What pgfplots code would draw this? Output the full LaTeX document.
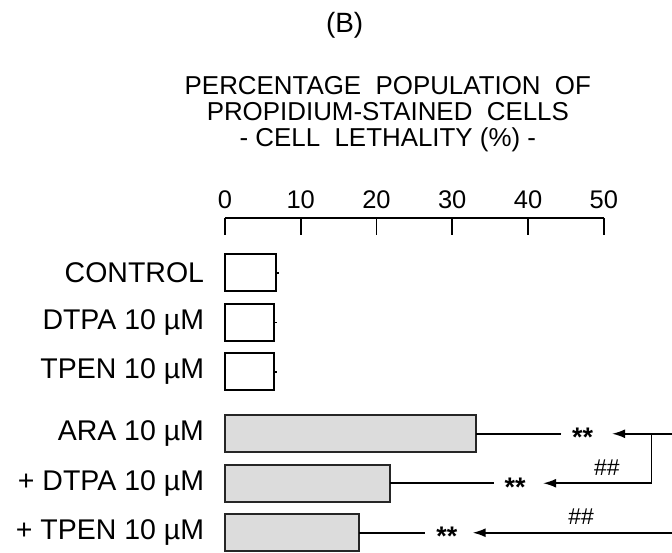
\documentclass[border=0pt]{standalone}
\usepackage{fontspec}
\setmainfont{Liberation Sans}
\usepackage{pgfplots}
\pgfplotsset{compat=1.18}
\usetikzlibrary{arrows.meta}
\definecolor{barg}{RGB}{220,220,220}
\begin{document}
\begin{tikzpicture}
\begin{axis}[
  x=3.79bp, y=24.75bp, y dir=reverse,
  xmin=0, xmax=50, ymin=-1.111, ymax=5.657,
  axis x line=top, axis y line=left,
  y axis line style={draw=none},
  x axis line style={-, line width=0.9bp},
  xtick={0,10,20,30,40,50},
  xtick align=inside,
  major tick length=8.5bp,
  xtick style={line width=0.9bp, black},
  ytick={0,1,2,3.25,4.25,5.25},
  yticklabels={CONTROL, DTPA 10 µM, TPEN 10 µM, ARA 10 µM, + DTPA 10 µM, + TPEN 10 µM},
  ytick style={draw=none},
  xticklabel style={font=\fontsize{12.8}{14}\selectfont, inner sep=1bp, yshift=3.5bp},
  yticklabel style={font=\fontsize{14.3}{16}\selectfont, anchor=east, inner sep=0pt, xshift=-6bp},
  /pgf/number format/assume math mode=true,
  clip=false,
]
\addplot[xbar, bar shift=0pt, bar width=18.5bp, fill=white, draw=black, line width=1bp,
  error bars/.cd, x dir=plus, x explicit, error mark=none,
  error bar style={line width=0.8bp, black}]
  coordinates {(6.8,0) +- (0.35,0) (6.45,1) +- (0.4,0) (6.5,2) +- (0.35,0)};
\addplot[xbar, bar shift=0pt, bar width=18.5bp, fill=barg, draw=black!85, line width=1bp,
  error bars/.cd, x dir=plus, x explicit, error mark=none,
  error bar style={line width=0.8bp, black}]
  coordinates {(33.2,3.25) +- (11.2,0) (21.8,4.25) +- (13.7,0) (17.7,5.25) +- (8.7,0)};
% annotations
\node[font=\bfseries\fontsize{13.5}{13}\selectfont] at (axis cs:47.2,3.33) {**};
\node[font=\bfseries\fontsize{13.5}{13}\selectfont] at (axis cs:38.3,4.33) {**};
\node[font=\bfseries\fontsize{13.5}{13}\selectfont] at (axis cs:29.3,5.33) {**};
\draw[line width=0.8bp, -{Latex[length=6.5bp,width=4.5bp]}] (axis cs:59,3.25) -- (axis cs:51.1,3.25);
\draw[line width=0.8bp] (axis cs:56.3,3.25) -- (axis cs:56.3,4.25);
\draw[line width=0.8bp, -{Latex[length=6.5bp,width=4.5bp]}] (axis cs:56.3,4.25) -- (axis cs:42,4.25);
\draw[line width=0.8bp, -{Latex[length=6.5bp,width=4.5bp]}] (axis cs:59,5.25) -- (axis cs:32.7,5.25);
\node[font=\fontsize{11.5}{11}\selectfont] at (axis cs:50.4,3.93) {\#\#};
\node[font=\fontsize{11.5}{11}\selectfont] at (axis cs:47,4.93) {\#\#};
% titles
\node[align=center, font=\fontsize{13}{13}\selectfont] at (axis cs:21.5,-3.21)
  {PERCENTAGE\ \ POPULATION\ \ OF\\ PROPIDIUM-STAINED\ \ CELLS\\ - CELL\ \ LETHALITY (\%) -};
\node[font=\fontsize{14}{14}\selectfont] at (axis cs:15.8,-5.01) {(B)};
\coordinate (bbA) at (axis cs:-29.68,-5.515);
\coordinate (bbB) at (axis cs:59,5.657);
\end{axis}
\pgfresetboundingbox
\path[use as bounding box] (bbA) rectangle (bbB);
\end{tikzpicture}
\end{document}
